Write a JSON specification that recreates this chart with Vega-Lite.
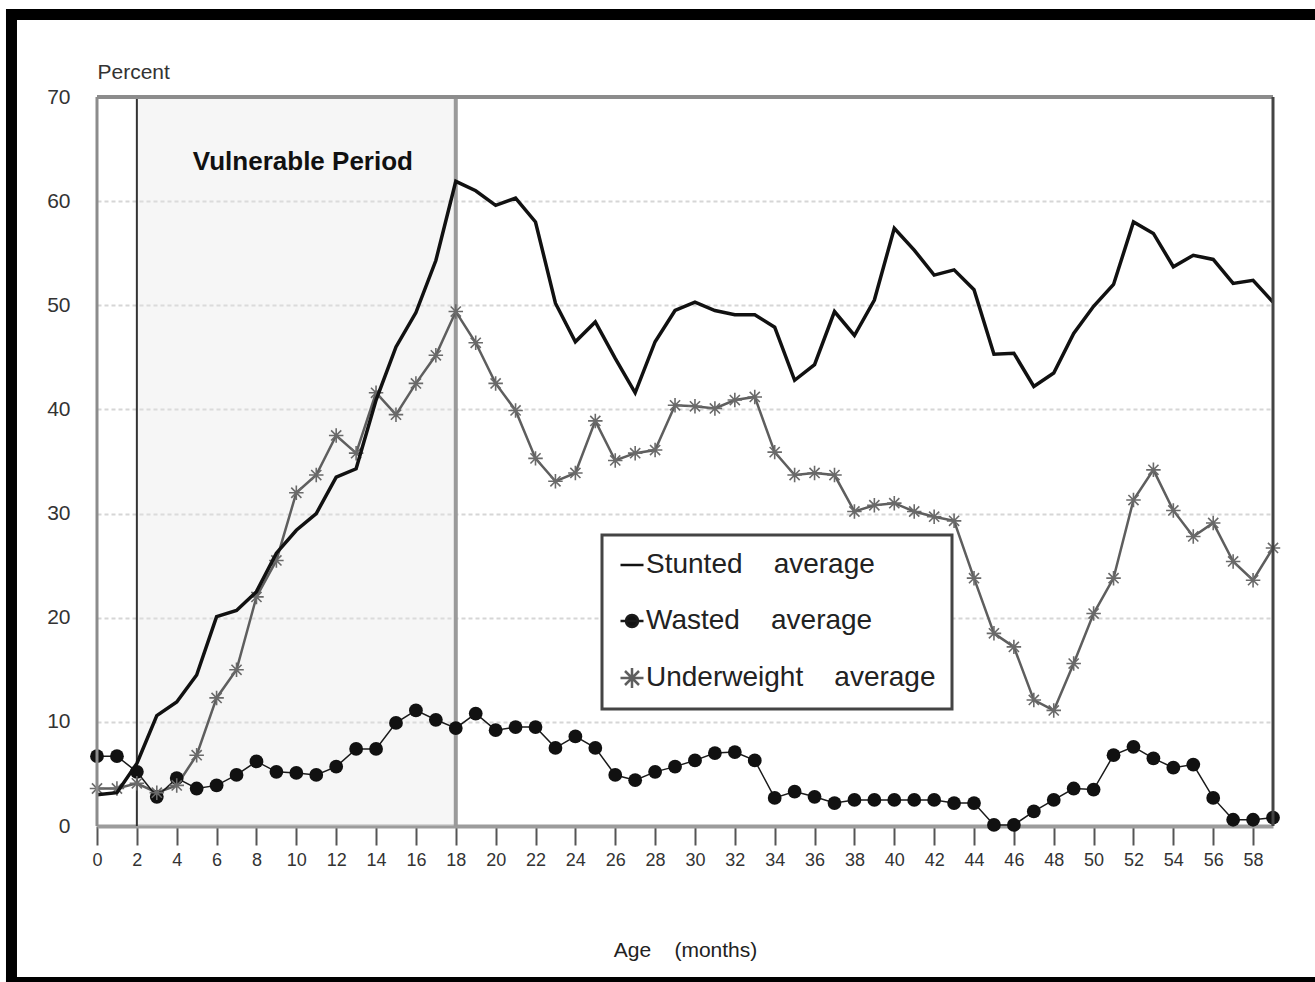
{
  "$schema": "https://vega.github.io/schema/vega-lite/v6.json",
  "width": 1176,
  "height": 729,
  "autosize": {"type": "none"},
  "padding": {"left": 97, "top": 97, "right": 42, "bottom": 156},
  "background": "white",
  "config": {
    "view": {"stroke": null},
    "font": "Liberation Sans, Arial, sans-serif",
    "legend": {"strokeWidth": 3}
  },
  "datasets": {
    "ages": [
      {"month": 0, "Stunted": 3.0, "Wasted": 6.7, "Underweight": 3.6},
      {"month": 1, "Stunted": 3.2, "Wasted": 6.7, "Underweight": 3.6},
      {"month": 2, "Stunted": 6.0, "Wasted": 5.2, "Underweight": 4.1},
      {"month": 3, "Stunted": 10.6, "Wasted": 2.8, "Underweight": 3.2},
      {"month": 4, "Stunted": 11.9, "Wasted": 4.6, "Underweight": 3.9},
      {"month": 5, "Stunted": 14.5, "Wasted": 3.6, "Underweight": 6.8},
      {"month": 6, "Stunted": 20.1, "Wasted": 3.9, "Underweight": 12.3},
      {"month": 7, "Stunted": 20.7, "Wasted": 4.9, "Underweight": 15.0},
      {"month": 8, "Stunted": 22.5, "Wasted": 6.2, "Underweight": 22.0},
      {"month": 9, "Stunted": 26.2, "Wasted": 5.2, "Underweight": 25.5},
      {"month": 10, "Stunted": 28.4, "Wasted": 5.1, "Underweight": 32.0},
      {"month": 11, "Stunted": 30.0, "Wasted": 4.9, "Underweight": 33.7},
      {"month": 12, "Stunted": 33.5, "Wasted": 5.7, "Underweight": 37.5},
      {"month": 13, "Stunted": 34.3, "Wasted": 7.4, "Underweight": 35.8},
      {"month": 14, "Stunted": 40.9, "Wasted": 7.4, "Underweight": 41.6},
      {"month": 15, "Stunted": 46.0, "Wasted": 9.9, "Underweight": 39.5},
      {"month": 16, "Stunted": 49.3, "Wasted": 11.1, "Underweight": 42.5},
      {"month": 17, "Stunted": 54.3, "Wasted": 10.2, "Underweight": 45.2},
      {"month": 18, "Stunted": 61.9, "Wasted": 9.4, "Underweight": 49.4},
      {"month": 19, "Stunted": 61.0, "Wasted": 10.8, "Underweight": 46.4},
      {"month": 20, "Stunted": 59.6, "Wasted": 9.2, "Underweight": 42.5},
      {"month": 21, "Stunted": 60.3, "Wasted": 9.5, "Underweight": 39.9},
      {"month": 22, "Stunted": 58.0, "Wasted": 9.5, "Underweight": 35.3},
      {"month": 23, "Stunted": 50.2, "Wasted": 7.5, "Underweight": 33.1},
      {"month": 24, "Stunted": 46.5, "Wasted": 8.6, "Underweight": 33.9},
      {"month": 25, "Stunted": 48.4, "Wasted": 7.5, "Underweight": 38.9},
      {"month": 26, "Stunted": 44.9, "Wasted": 4.9, "Underweight": 35.1},
      {"month": 27, "Stunted": 41.6, "Wasted": 4.4, "Underweight": 35.8},
      {"month": 28, "Stunted": 46.5, "Wasted": 5.2, "Underweight": 36.1},
      {"month": 29, "Stunted": 49.5, "Wasted": 5.7, "Underweight": 40.4},
      {"month": 30, "Stunted": 50.3, "Wasted": 6.3, "Underweight": 40.3},
      {"month": 31, "Stunted": 49.5, "Wasted": 7.0, "Underweight": 40.1},
      {"month": 32, "Stunted": 49.1, "Wasted": 7.1, "Underweight": 40.9},
      {"month": 33, "Stunted": 49.1, "Wasted": 6.3, "Underweight": 41.2},
      {"month": 34, "Stunted": 47.9, "Wasted": 2.7, "Underweight": 35.9},
      {"month": 35, "Stunted": 42.8, "Wasted": 3.3, "Underweight": 33.7},
      {"month": 36, "Stunted": 44.3, "Wasted": 2.8, "Underweight": 33.9},
      {"month": 37, "Stunted": 49.4, "Wasted": 2.2, "Underweight": 33.7},
      {"month": 38, "Stunted": 47.1, "Wasted": 2.5, "Underweight": 30.2},
      {"month": 39, "Stunted": 50.5, "Wasted": 2.5, "Underweight": 30.8},
      {"month": 40, "Stunted": 57.4, "Wasted": 2.5, "Underweight": 31.0},
      {"month": 41, "Stunted": 55.3, "Wasted": 2.5, "Underweight": 30.2},
      {"month": 42, "Stunted": 52.9, "Wasted": 2.5, "Underweight": 29.7},
      {"month": 43, "Stunted": 53.4, "Wasted": 2.2, "Underweight": 29.3},
      {"month": 44, "Stunted": 51.5, "Wasted": 2.2, "Underweight": 23.8},
      {"month": 45, "Stunted": 45.3, "Wasted": 0.1, "Underweight": 18.5},
      {"month": 46, "Stunted": 45.4, "Wasted": 0.1, "Underweight": 17.2},
      {"month": 47, "Stunted": 42.2, "Wasted": 1.4, "Underweight": 12.1},
      {"month": 48, "Stunted": 43.5, "Wasted": 2.5, "Underweight": 11.1},
      {"month": 49, "Stunted": 47.3, "Wasted": 3.6, "Underweight": 15.6},
      {"month": 50, "Stunted": 49.9, "Wasted": 3.5, "Underweight": 20.4},
      {"month": 51, "Stunted": 52.0, "Wasted": 6.8, "Underweight": 23.8},
      {"month": 52, "Stunted": 58.0, "Wasted": 7.6, "Underweight": 31.3},
      {"month": 53, "Stunted": 56.9, "Wasted": 6.5, "Underweight": 34.2},
      {"month": 54, "Stunted": 53.7, "Wasted": 5.6, "Underweight": 30.3},
      {"month": 55, "Stunted": 54.8, "Wasted": 5.9, "Underweight": 27.8},
      {"month": 56, "Stunted": 54.4, "Wasted": 2.7, "Underweight": 29.1},
      {"month": 57, "Stunted": 52.1, "Wasted": 0.6, "Underweight": 25.4},
      {"month": 58, "Stunted": 52.4, "Wasted": 0.6, "Underweight": 23.6},
      {"month": 59, "Stunted": 50.3, "Wasted": 0.8, "Underweight": 26.7}
    ],
    "period": [
      {"start": 2, "end": 18, "label": "Vulnerable Period"}
    ]
  },
  "layer": [
    {
      "data": {"values": [{}]},
      "mark": {"type": "rect", "color": "#000000"},
      "encoding": {
        "x": {"datum": -4.566, "scale": {"domain": [0, 59], "nice": false}},
        "x2": {"datum": -4.014},
        "y": {"datum": 78.45, "scale": {"domain": [0, 70], "nice": false}},
        "y2": {"datum": -16}
      }
    },
    {
      "data": {"values": [{}]},
      "mark": {"type": "rect", "color": "#000000"},
      "encoding": {
        "x": {"datum": -4.566, "scale": {"domain": [0, 59], "nice": false}},
        "x2": {"datum": 62},
        "y": {"datum": 78.45, "scale": {"domain": [0, 70], "nice": false}},
        "y2": {"datum": 77.4}
      }
    },
    {
      "data": {"values": [{}]},
      "mark": {"type": "rect", "color": "#000000"},
      "encoding": {
        "x": {"datum": -4.566, "scale": {"domain": [0, 59], "nice": false}},
        "x2": {"datum": 62},
        "y": {"datum": -14.5, "scale": {"domain": [0, 70], "nice": false}},
        "y2": {"datum": -16}
      }
    },
    {
      "data": {"name": "period"},
      "mark": {"type": "rect", "fill": "#e6e6e6", "opacity": 0.35},
      "encoding": {
        "x": {"field": "start", "type": "quantitative", "scale": {"domain": [0, 59], "nice": false}},
        "x2": {"field": "end"},
        "y": {"datum": 0, "scale": {"domain": [0, 70], "nice": false}},
        "y2": {"datum": 70}
      }
    },
    {
      "data": {"name": "period"},
      "mark": {"type": "rule", "color": "#333333", "strokeWidth": 2},
      "encoding": {
        "x": {"field": "start", "type": "quantitative", "scale": {"domain": [0, 59], "nice": false}},
        "y": {"datum": 0, "scale": {"domain": [0, 70], "nice": false}},
        "y2": {"datum": 70}
      }
    },
    {
      "data": {"name": "period"},
      "mark": {"type": "rule", "color": "#9a9a9a", "strokeWidth": 4},
      "encoding": {
        "x": {"field": "end", "type": "quantitative", "scale": {"domain": [0, 59], "nice": false}},
        "y": {"datum": 0, "scale": {"domain": [0, 70], "nice": false}},
        "y2": {"datum": 70}
      }
    },
    {
      "data": {"name": "period"},
      "mark": {"type": "text", "align": "left", "baseline": "alphabetic", "dx": 56, "fontSize": 26, "fontWeight": "bold", "color": "#111111"},
      "encoding": {
        "x": {"field": "start", "type": "quantitative", "scale": {"domain": [0, 59], "nice": false}},
        "y": {"datum": 63, "scale": {"domain": [0, 70], "nice": false}},
        "text": {"field": "label"}
      }
    },
    {
      "data": {"name": "ages"},
      "transform": [{"fold": ["Underweight"], "as": ["series", "value"]}],
      "mark": {"type": "line", "strokeWidth": 2.5},
      "encoding": {
        "x": {
          "field": "month", "type": "quantitative",
          "scale": {"domain": [0, 59], "nice": false},
          "axis": {
            "title": "Age\u00a0\u00a0\u00a0\u00a0(months)",
            "values": [0, 2, 4, 6, 8, 10, 12, 14, 16, 18, 20, 22, 24, 26, 28, 30, 32, 34, 36, 38, 40, 42, 44, 46, 48, 50, 52, 54, 56, 58],
            "grid": false,
            "domainColor": "#9c9c9c", "domainWidth": 4,
            "tickColor": "#555555", "tickWidth": 2, "tickSize": 19,
            "labelFontSize": 18, "labelColor": "#333333", "labelPadding": 6, "labelFlush": false,
            "titleFontSize": 21, "titleFontWeight": "normal", "titleColor": "#222222",
            "titleY": 130, "titleBaseline": "alphabetic"
          }
        },
        "y": {
          "field": "value", "type": "quantitative",
          "scale": {"domain": [0, 70], "nice": false},
          "axis": {
            "title": "Percent",
            "values": [0, 10, 20, 30, 40, 50, 60, 70],
            "domain": false, "ticks": false,
            "grid": true, "gridColor": "#d6d6d6", "gridDash": [4, 3], "gridWidth": 2,
            "labelFontSize": 21, "labelColor": "#333333", "labelPadding": 27,
            "titleAngle": 0, "titleAlign": "left", "titleX": 0, "titleY": -19, "titleBaseline": "alphabetic",
            "titleFontSize": 21, "titleFontWeight": "normal", "titleColor": "#333333"
          }
        },
        "stroke": {
          "field": "series", "type": "nominal",
          "scale": {"domain": ["Stunted", "Wasted", "Underweight"], "range": ["#111111", "#1a1a1a", "#5e5e5e"]},
          "legend": {
            "title": null, "orient": "none", "legendX": 505, "legendY": 438,
            "strokeColor": "#444444", "fillColor": "#ffffff", "padding": 16,
            "symbolSize": 400, "symbolStrokeWidth": 2.5,
            "labelFontSize": 28, "labelColor": "#222222", "labelOffset": 0, "labelLimit": 400,
            "rowPadding": 28,
            "labelExpr": "datum.label == 'Stunted' ? 'Stunted\u00a0\u00a0\u00a0\u00a0average' : datum.label == 'Wasted' ? 'Wasted\u00a0\u00a0\u00a0\u00a0average' : 'Underweight\u00a0\u00a0\u00a0\u00a0average'"
          }
        }
      }
    },
    {
      "data": {"name": "ages"},
      "transform": [{"fold": ["Wasted"], "as": ["series", "value"]}],
      "mark": {"type": "line", "strokeWidth": 1.5},
      "encoding": {
        "x": {"field": "month", "type": "quantitative", "scale": {"domain": [0, 59], "nice": false}},
        "y": {"field": "value", "type": "quantitative", "scale": {"domain": [0, 70], "nice": false}},
        "stroke": {
          "field": "series", "type": "nominal",
          "scale": {"domain": ["Stunted", "Wasted", "Underweight"], "range": ["#111111", "#1a1a1a", "#5e5e5e"]},
          "legend": {
            "title": null, "orient": "none", "legendX": 505, "legendY": 438,
            "strokeColor": "#444444", "fillColor": "#ffffff", "padding": 16,
            "symbolSize": 400, "symbolStrokeWidth": 2.5,
            "labelFontSize": 28, "labelColor": "#222222", "labelOffset": 0, "labelLimit": 400,
            "rowPadding": 28,
            "labelExpr": "datum.label == 'Stunted' ? 'Stunted\u00a0\u00a0\u00a0\u00a0average' : datum.label == 'Wasted' ? 'Wasted\u00a0\u00a0\u00a0\u00a0average' : 'Underweight\u00a0\u00a0\u00a0\u00a0average'"
          }
        }
      }
    },
    {
      "data": {"name": "ages"},
      "transform": [
        {"fold": ["Wasted"], "as": ["series", "value"]}
      ],
      "mark": {"type": "point", "shape": "circle", "filled": true, "size": 190, "color": "#111111", "opacity": 1},
      "encoding": {
        "x": {"field": "month", "type": "quantitative", "scale": {"domain": [0, 59], "nice": false}},
        "y": {"field": "value", "type": "quantitative", "scale": {"domain": [0, 70], "nice": false}}
      }
    },
    {
      "data": {"name": "ages"},
      "transform": [
        {"fold": ["Underweight"], "as": ["series", "value"]}
      ],
      "mark": {"type": "point", "shape": "M0,-1V1M-1,0H1M-0.7,-0.7L0.7,0.7M-0.7,0.7L0.7,-0.7", "filled": false, "size": 210, "stroke": "#6a6a6a", "strokeWidth": 1.6, "opacity": 1},
      "encoding": {
        "x": {"field": "month", "type": "quantitative", "scale": {"domain": [0, 59], "nice": false}},
        "y": {"field": "value", "type": "quantitative", "scale": {"domain": [0, 70], "nice": false}}
      }
    },
    {
      "data": {"name": "ages"},
      "transform": [{"fold": ["Stunted"], "as": ["series", "value"]}],
      "mark": {"type": "line", "strokeWidth": 3.5},
      "encoding": {
        "x": {"field": "month", "type": "quantitative", "scale": {"domain": [0, 59], "nice": false}},
        "y": {"field": "value", "type": "quantitative", "scale": {"domain": [0, 70], "nice": false}},
        "stroke": {
          "field": "series", "type": "nominal",
          "scale": {"domain": ["Stunted", "Wasted", "Underweight"], "range": ["#111111", "#1a1a1a", "#5e5e5e"]},
          "legend": {
            "title": null, "orient": "none", "legendX": 505, "legendY": 438,
            "strokeColor": "#444444", "fillColor": "#ffffff", "padding": 16,
            "symbolSize": 400, "symbolStrokeWidth": 2.5,
            "labelFontSize": 28, "labelColor": "#222222", "labelOffset": 0, "labelLimit": 400,
            "rowPadding": 28,
            "labelExpr": "datum.label == 'Stunted' ? 'Stunted\u00a0\u00a0\u00a0\u00a0average' : datum.label == 'Wasted' ? 'Wasted\u00a0\u00a0\u00a0\u00a0average' : 'Underweight\u00a0\u00a0\u00a0\u00a0average'"
          }
        }
      }
    },
    {
      "data": {"name": "ages"},
      "transform": [
        {"fold": ["Stunted", "Wasted", "Underweight"], "as": ["series", "value"]},
        {"filter": "false"}
      ],
      "mark": {"type": "point", "filled": true, "strokeWidth": 2.5, "opacity": 1},
      "encoding": {
        "x": {"field": "month", "type": "quantitative", "scale": {"domain": [0, 59], "nice": false}},
        "y": {"field": "value", "type": "quantitative", "scale": {"domain": [0, 70], "nice": false}},
        "shape": {
          "field": "series", "type": "nominal",
          "scale": {"domain": ["Stunted", "Wasted", "Underweight"], "range": [
            "M-1.15,0H1.15",
            "M-1.15,0H1.15M0.6,0A0.6,0.6,0,1,1,-0.6,0A0.6,0.6,0,1,1,0.6,0Z",
            "M-1.15,0H1.15M0,-1V1M-0.7,-0.7L0.7,0.7M-0.7,0.7L0.7,-0.7"
          ]},
          "legend": {
            "title": null, "orient": "none", "legendX": 505, "legendY": 438,
            "strokeColor": "#444444", "fillColor": "#ffffff", "padding": 16,
            "symbolSize": 400, "symbolStrokeWidth": 2.5,
            "labelFontSize": 28, "labelColor": "#222222", "labelOffset": 0, "labelLimit": 400,
            "rowPadding": 28,
            "labelExpr": "datum.label == 'Stunted' ? 'Stunted\u00a0\u00a0\u00a0\u00a0average' : datum.label == 'Wasted' ? 'Wasted\u00a0\u00a0\u00a0\u00a0average' : 'Underweight\u00a0\u00a0\u00a0\u00a0average'"
          }
        },
        "fill": {
          "field": "series", "type": "nominal",
          "scale": {"domain": ["Stunted", "Wasted", "Underweight"], "range": ["#111111", "#111111", "#5e5e5e"]},
          "legend": {
            "title": null, "orient": "none", "legendX": 505, "legendY": 438,
            "strokeColor": "#444444", "fillColor": "#ffffff", "padding": 16,
            "symbolSize": 400, "symbolStrokeWidth": 2.5,
            "labelFontSize": 28, "labelColor": "#222222", "labelOffset": 0, "labelLimit": 400,
            "rowPadding": 28,
            "labelExpr": "datum.label == 'Stunted' ? 'Stunted\u00a0\u00a0\u00a0\u00a0average' : datum.label == 'Wasted' ? 'Wasted\u00a0\u00a0\u00a0\u00a0average' : 'Underweight\u00a0\u00a0\u00a0\u00a0average'"
          }
        },
        "stroke": {
          "field": "series", "type": "nominal",
          "scale": {"domain": ["Stunted", "Wasted", "Underweight"], "range": ["#111111", "#1a1a1a", "#5e5e5e"]},
          "legend": {
            "title": null, "orient": "none", "legendX": 505, "legendY": 438,
            "strokeColor": "#444444", "fillColor": "#ffffff", "padding": 16,
            "symbolSize": 400, "symbolStrokeWidth": 2.5,
            "labelFontSize": 28, "labelColor": "#222222", "labelOffset": 0, "labelLimit": 400,
            "rowPadding": 28,
            "labelExpr": "datum.label == 'Stunted' ? 'Stunted\u00a0\u00a0\u00a0\u00a0average' : datum.label == 'Wasted' ? 'Wasted\u00a0\u00a0\u00a0\u00a0average' : 'Underweight\u00a0\u00a0\u00a0\u00a0average'"
          }
        }
      }
    },
    {
      "data": {"values": [{}]},
      "mark": {"type": "rule", "color": "#8c8c8c", "strokeWidth": 4},
      "encoding": {
        "x": {"datum": 0, "scale": {"domain": [0, 59], "nice": false}},
        "x2": {"datum": 59},
        "y": {"datum": 70, "scale": {"domain": [0, 70], "nice": false}}
      }
    },
    {
      "data": {"values": [{}]},
      "mark": {"type": "rule", "color": "#8c8c8c", "strokeWidth": 3},
      "encoding": {
        "x": {"datum": 0, "scale": {"domain": [0, 59], "nice": false}},
        "y": {"datum": 0, "scale": {"domain": [0, 70], "nice": false}},
        "y2": {"datum": 70}
      }
    },
    {
      "data": {"values": [{}]},
      "mark": {"type": "rule", "color": "#444444", "strokeWidth": 3},
      "encoding": {
        "x": {"datum": 59, "scale": {"domain": [0, 59], "nice": false}},
        "y": {"datum": 0, "scale": {"domain": [0, 70], "nice": false}},
        "y2": {"datum": 70}
      }
    }
  ]
}
